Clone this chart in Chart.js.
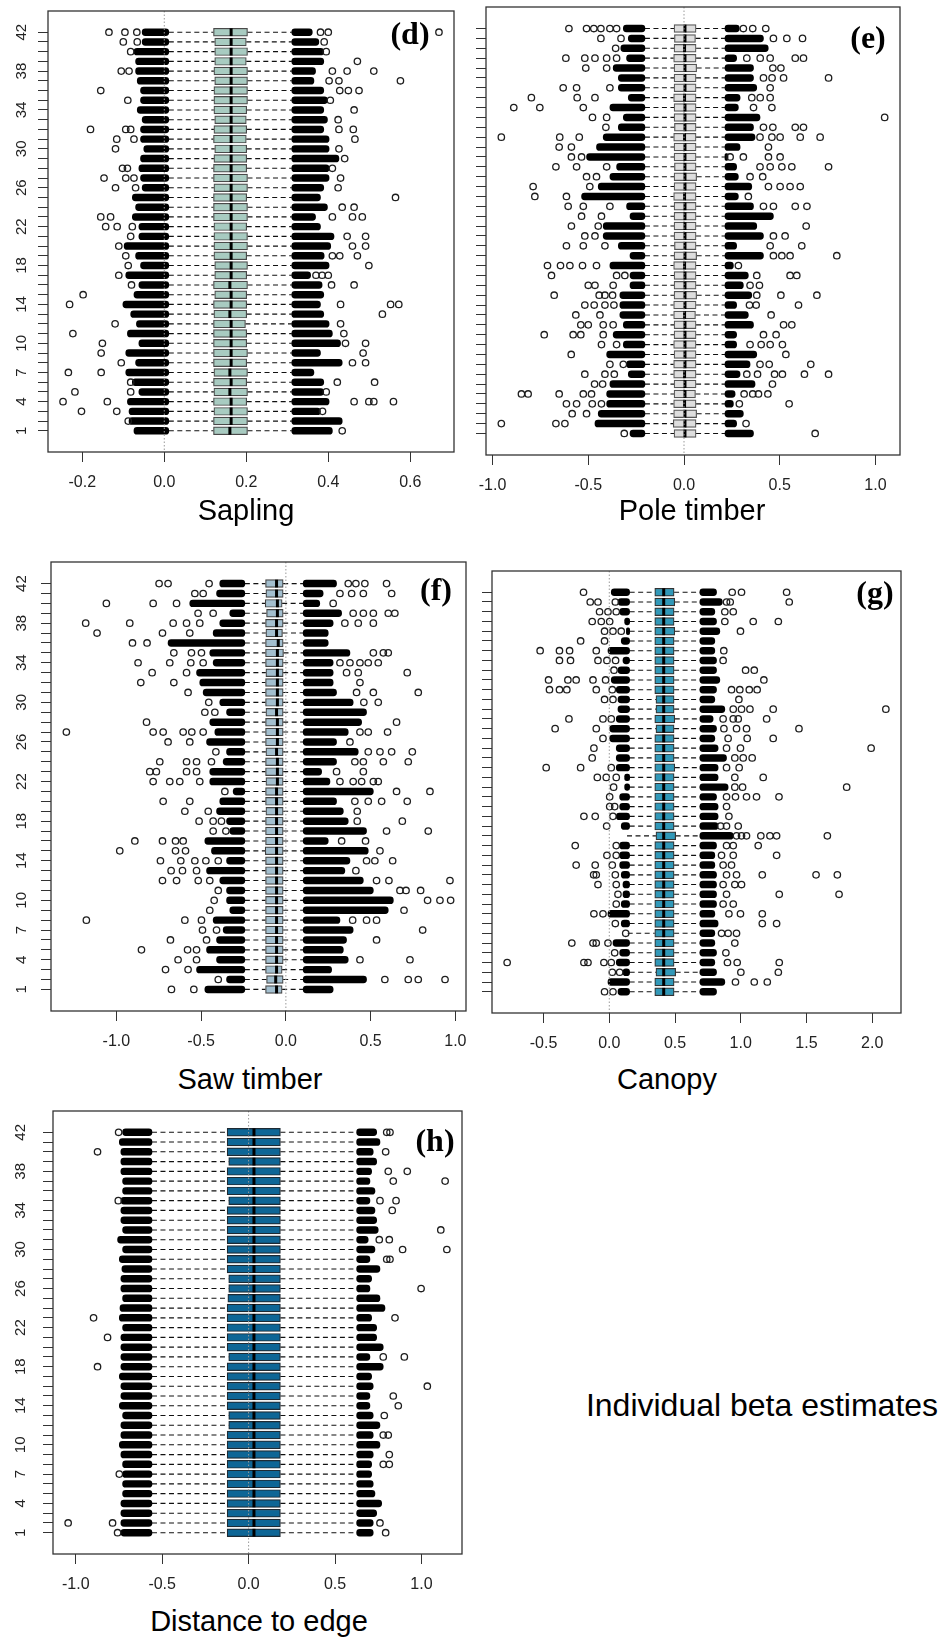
<!DOCTYPE html>
<html><head><meta charset="utf-8">
<script src="https://cdn.jsdelivr.net/npm/chart.js"></script>
<style>
html,body{margin:0;padding:0;background:#fff;}
body{width:940px;height:1642px;position:relative;overflow:hidden;font-family:"Liberation Sans",Arial,sans-serif;}
canvas{position:absolute;}
.t{position:absolute;transform:translate(-50%,-50%);white-space:nowrap;line-height:1;color:#000;}
.ax{font-size:29px;font-family:"Liberation Sans",Arial,sans-serif;}
.big{font-size:32px;font-family:"Liberation Sans",Arial,sans-serif;}
.lt{font-family:"Liberation Serif","Times New Roman",serif;font-weight:bold;font-size:32px;}
</style></head><body>
<script>
// ---------- categories (top to bottom) ----------
const rows = [42,41,40,39,38,37,36,35,34,33,32,31,30,29,28,27,26,25,24,23,22,21,20,19,18,17,16,15,14,13,12,11,10,9,8,7,6,5,4,3,2,1];
const yTickLabels = [42,38,34,30,26,22,18,14,10,7,4,1];

// ---------- (d) Sapling ----------
const dTicks = [-0.2,0.0,0.2,0.4,0.6];
const dQ1 = [0.120,0.123,0.123,0.123,0.121,0.123,0.121, 0.121,0.121,0.123,0.121,0.120,0.123,0.121, 0.120,0.120,0.121,0.120,0.120,0.120,0.121, 0.121,0.121,0.121,0.123,0.123,0.120,0.123, 0.120,0.121,0.120,0.120,0.120,0.120,0.120, 0.121,0.120,0.121,0.120,0.121,0.120,0.120];
const dMed = [0.163,0.163,0.163,0.163,0.163,0.163,0.163, 0.163,0.163,0.163,0.163,0.163,0.163,0.163, 0.163,0.163,0.163,0.163,0.163,0.163,0.163, 0.163,0.163,0.163,0.163,0.163,0.160,0.163, 0.163,0.160,0.163,0.163,0.163,0.163,0.163, 0.160,0.163,0.160,0.163,0.163,0.163,0.160];
const dQ3 = [0.203,0.200,0.203,0.200,0.203,0.203,0.203, 0.203,0.201,0.200,0.201,0.200,0.201,0.201, 0.201,0.203,0.203,0.201,0.203,0.203,0.201, 0.203,0.203,0.201,0.203,0.201,0.203,0.201, 0.201,0.201,0.198,0.201,0.201,0.203,0.201, 0.203,0.201,0.203,0.201,0.203,0.203,0.203];
const dWLo = [0.011,0.011,0.011,0.011,0.011,0.011,0.011, 0.011,0.011,0.011,0.011,0.011,0.011,0.011, 0.011,0.011,0.011,0.011,0.011,0.011,0.011, 0.011,0.011,0.011,0.011,0.011,0.011,0.011, 0.011,0.011,0.011,0.011,0.011,0.011,0.011, 0.011,0.011,0.011,0.011,0.011,0.011,0.011];
const dWHi = [0.311,0.311,0.311,0.311,0.311,0.311,0.311, 0.311,0.311,0.311,0.311,0.311,0.311,0.311, 0.311,0.311,0.311,0.311,0.311,0.311,0.311, 0.311,0.311,0.311,0.311,0.311,0.311,0.311, 0.311,0.311,0.311,0.311,0.311,0.311,0.311, 0.311,0.311,0.311,0.311,0.311,0.311,0.311];
const dBandL = [-0.054,-0.054,-0.074,-0.070,-0.070,-0.066,-0.058, -0.058,-0.066,-0.054,-0.058,-0.058,-0.050,-0.058, -0.062,-0.058,-0.054,-0.078,-0.070,-0.078,-0.062, -0.062,-0.098,-0.070,-0.058,-0.094,-0.062,-0.074, -0.101,-0.082,-0.068,-0.090,-0.062,-0.094,-0.070, -0.094,-0.078,-0.062,-0.090,-0.086,-0.086,-0.074];
const dBandR = [0.361,0.377,0.389,0.389,0.369,0.365,0.389, 0.398,0.389,0.398,0.389,0.402,0.402,0.426, 0.402,0.402,0.389,0.381,0.398,0.369,0.381, 0.414,0.406,0.390,0.402,0.357,0.385,0.389, 0.381,0.389,0.402,0.410,0.430,0.381,0.434, 0.365,0.389,0.389,0.402,0.381,0.434,0.410];
const dOut = [
 [-0.135,-0.096,-0.067,0.381,0.400,0.670],
 [-0.100,-0.066,0.390],
 [-0.082,0.395],
 [0.471],
 [-0.105,-0.086,0.410,0.446,0.511],
 [0.402,0.426,0.576],
 [-0.155,0.428,0.449,0.475],
 [-0.089,0.405],
 [0.463],
 [0.424],
 [-0.180,-0.094,-0.082,0.426,0.461],
 [-0.116,-0.074,0.465],
 [-0.119,0.426],
 [0.440],
 [-0.102,-0.090,0.410],
 [-0.147,-0.094,-0.074,0.430],
 [-0.119,-0.070,0.424],
 [0.564],
 [0.434,0.463],
 [-0.155,-0.131,0.410,0.459,0.483],
 [-0.143,-0.115,-0.078],
 [-0.082,0.446,0.491],
 [-0.111,0.459,0.491],
 [-0.094,0.410,0.428,0.471],
 [-0.088,0.499],
 [-0.111,0.370,0.385,0.400],
 [-0.080,0.408,0.463],
 [-0.198],
 [-0.231,0.430,0.552,0.572],
 [0.532],
 [-0.120,0.430],
 [-0.223,0.438],
 [-0.151,0.442,0.491],
 [-0.154,0.485],
 [-0.105,0.459,0.491],
 [-0.234,-0.154],
 [-0.082,0.422,0.513],
 [-0.218,-0.082,0.395],
 [-0.247,-0.139,0.463,0.499,0.511,0.559],
 [-0.202,-0.116,0.386],
 [-0.088],
 [0.434]
];

// ---------- (e) Pole timber ----------
const eTicks = [-1.0,-0.5,0.0,0.5,1.0];
const eQ1 = [-0.052,-0.050,-0.052,-0.054,-0.052,-0.052,-0.052, -0.054,-0.052,-0.052,-0.050,-0.054,-0.052,-0.052, -0.050,-0.052,-0.052,-0.054,-0.052,-0.052,-0.052, -0.052,-0.050,-0.052,-0.054,-0.052,-0.052,-0.052, -0.054,-0.054,-0.052,-0.052,-0.054,-0.052,-0.054, -0.054,-0.052,-0.052,-0.054,-0.054,-0.056,-0.052];
const eMed = [0.005,0.005,0.003,0.005,0.005,0.005,0.005, 0.003,0.005,0.005,0.005,0.003,0.005,0.005, 0.005,0.005,0.005,0.003,0.005,0.005,0.005, 0.005,0.005,0.005,0.003,0.005,0.005,0.005, 0.005,0.003,0.005,0.005,0.005,0.005,0.005, 0.003,0.005,0.005,0.003,0.005,0.005,0.005];
const eQ3 = [0.063,0.060,0.063,0.063,0.066,0.063,0.063, 0.063,0.063,0.063,0.063,0.063,0.063,0.063, 0.063,0.066,0.063,0.063,0.063,0.063,0.063, 0.063,0.063,0.066,0.063,0.063,0.063,0.066, 0.063,0.060,0.063,0.063,0.063,0.063,0.063, 0.063,0.063,0.060,0.063,0.066,0.063,0.063];
const eWLo = [-0.204,-0.204,-0.204,-0.204,-0.204,-0.204,-0.204, -0.204,-0.204,-0.204,-0.204,-0.204,-0.204,-0.204, -0.204,-0.204,-0.204,-0.204,-0.204,-0.204,-0.204, -0.204,-0.204,-0.204,-0.204,-0.204,-0.204,-0.204, -0.204,-0.204,-0.204,-0.204,-0.204,-0.204,-0.204, -0.204,-0.204,-0.204,-0.204,-0.204,-0.204,-0.204];
const eWHi = [0.214,0.214,0.214,0.214,0.214,0.214,0.214, 0.214,0.214,0.214,0.214,0.214,0.214,0.214, 0.214,0.214,0.214,0.214,0.214,0.214,0.214, 0.214,0.214,0.214,0.214,0.214,0.214,0.214, 0.214,0.214,0.214,0.214,0.214,0.214,0.214, 0.214,0.214,0.214,0.214,0.214,0.214,0.214];
const eBandL = [-0.317,-0.291,-0.330,-0.300,-0.370,-0.343,-0.343, -0.291,-0.387,-0.317,-0.343,-0.422,-0.457,-0.509, -0.352,-0.387,-0.448,-0.535,-0.300,-0.282,-0.422, -0.422,-0.343,-0.282,-0.387,-0.282,-0.282,-0.335, -0.335,-0.335,-0.317,-0.370,-0.317,-0.404,-0.300, -0.291,-0.387,-0.404,-0.404,-0.448,-0.465,-0.282];
const eBandR = [0.289,0.415,0.440,0.275,0.363,0.363,0.380, 0.293,0.284,0.397,0.363,0.371,0.293,0.230, 0.275,0.284,0.354,0.284,0.363,0.467,0.380, 0.415,0.275,0.415,0.258,0.336,0.310,0.354, 0.275,0.336,0.363,0.275,0.275,0.380,0.345, 0.293,0.371,0.267,0.258,0.310,0.275,0.363];
const eOut = [
 [-0.601,-0.509,-0.471,-0.434,-0.387,-0.352,0.310,0.359,0.427],
 [-0.434,-0.329,0.467,0.537,0.619],
 [-0.357],
 [-0.617,-0.518,-0.465,-0.404,-0.352,0.328,0.398,0.450,0.581,0.624],
 [-0.513,-0.404,0.464,0.506],
 [0.415,0.460,0.520,0.755],
 [-0.631,-0.561,-0.387,0.450],
 [-0.797,-0.558,-0.465,0.354,0.398,0.450],
 [-0.889,-0.753,-0.526,0.363,0.459],
 [-0.478,-0.404,1.048],
 [-0.408,0.415,0.464,0.581,0.624],
 [-0.954,-0.649,-0.547,0.397,0.459,0.502,0.607,0.711],
 [-0.652,-0.588,0.441],
 [-0.588,-0.535,0.241,0.310,0.441,0.502],
 [-0.669,-0.561,-0.404,0.397,0.450,0.511,0.563,0.755],
 [-0.509,-0.457,0.345,0.411],
 [-0.788,-0.492,0.441,0.502,0.554,0.607],
 [-0.779,-0.614,0.336],
 [-0.605,-0.526,-0.387,0.415,0.467,0.581,0.642],
 [-0.535,-0.431],
 [-0.588,-0.448,0.638],
 [-0.518,-0.465,0.467,0.528],
 [-0.614,-0.526,-0.413,0.450,0.615],
 [0.467,0.511,0.554,0.798],
 [-0.713,-0.645,-0.596,-0.530,-0.457,0.284],
 [-0.692,-0.352,-0.309,0.380,0.554,0.589],
 [-0.500,-0.465,-0.370,0.345,0.394],
 [-0.678,-0.443,-0.413,-0.373,0.380,0.506,0.694],
 [-0.518,-0.469,-0.413,-0.366,0.342,0.377,0.598],
 [-0.565,-0.439,0.455],
 [-0.539,-0.500,-0.422,-0.370,0.520,0.563],
 [-0.730,-0.579,-0.539,-0.422,0.415,0.481],
 [-0.431,-0.352,0.345,0.403,0.450,0.514],
 [-0.589,0.532],
 [-0.387,-0.317,0.397,0.445,0.662],
 [-0.518,-0.413,-0.364,0.328,0.384,0.473,0.514,0.629,0.755],
 [-0.467,-0.425,0.462],
 [-0.849,-0.814,-0.652,-0.526,-0.483,0.314,0.359,0.389,0.438],
 [-0.614,-0.561,-0.479,-0.431,0.289,0.549],
 [-0.584,-0.509],
 [-0.954,-0.669,-0.622,0.324],
 [-0.312,0.685]
];

// ---------- (f) Saw timber ----------
const fTicks = [-1.0,-0.5,0.0,0.5,1.0];
const fQ1 = [-0.120,-0.118,-0.122,-0.114,-0.120,-0.118,-0.120, -0.120,-0.120,-0.118,-0.120,-0.120,-0.120,-0.118, -0.120,-0.120,-0.120,-0.118,-0.120,-0.120,-0.118, -0.120,-0.120,-0.118,-0.120,-0.120,-0.120,-0.122, -0.120,-0.120,-0.120,-0.120,-0.120,-0.120,-0.120, -0.120,-0.120,-0.120,-0.120,-0.120,-0.114,-0.120];
const fMed = [-0.055,-0.055,-0.050,-0.050,-0.055,-0.055,-0.045, -0.050,-0.050,-0.050,-0.050,-0.050,-0.050,-0.055, -0.050,-0.050,-0.050,-0.055,-0.050,-0.050,-0.050, -0.055,-0.055,-0.055,-0.055,-0.055,-0.055,-0.055, -0.055,-0.055,-0.055,-0.055,-0.055,-0.055,-0.055, -0.055,-0.055,-0.055,-0.055,-0.055,-0.060,-0.055];
const fQ3 = [-0.016,-0.016,-0.022,-0.016,-0.016,-0.020,-0.016, -0.014,-0.016,-0.016,-0.016,-0.016,-0.016,-0.016, -0.016,-0.016,-0.016,-0.016,-0.016,-0.016,-0.016, -0.016,-0.016,-0.016,-0.016,-0.016,-0.016,-0.016, -0.016,-0.016,-0.016,-0.016,-0.016,-0.016,-0.016, -0.016,-0.016,-0.016,-0.016,-0.022,-0.016,-0.022];
const fWLo = [-0.242,-0.242,-0.242,-0.242,-0.242,-0.242,-0.242, -0.242,-0.242,-0.242,-0.242,-0.242,-0.242,-0.242, -0.242,-0.242,-0.242,-0.242,-0.242,-0.242,-0.242, -0.242,-0.242,-0.242,-0.242,-0.242,-0.242,-0.242, -0.242,-0.242,-0.242,-0.242,-0.242,-0.242,-0.242, -0.242,-0.242,-0.242,-0.242,-0.242,-0.242,-0.242];
const fWHi = [0.102,0.102,0.102,0.102,0.102,0.102,0.102, 0.102,0.102,0.102,0.102,0.102,0.102,0.102, 0.102,0.102,0.102,0.102,0.102,0.102,0.102, 0.102,0.102,0.102,0.102,0.102,0.102,0.102, 0.102,0.102,0.102,0.102,0.102,0.102,0.102, 0.102,0.102,0.102,0.102,0.102,0.102,0.102];
const fBandL = [-0.390,-0.409,-0.567,-0.331,-0.390,-0.429,-0.695, -0.449,-0.429,-0.527,-0.508,-0.488,-0.390,-0.350, -0.449,-0.419,-0.468,-0.350,-0.370,-0.449,-0.449, -0.311,-0.390,-0.409,-0.350,-0.331,-0.478,-0.439, -0.350,-0.468,-0.390,-0.350,-0.350,-0.331,-0.429, -0.370,-0.409,-0.468,-0.409,-0.527,-0.350,-0.478];
const fBandR = [0.299,0.220,0.200,0.329,0.279,0.250,0.250, 0.378,0.279,0.279,0.279,0.299,0.397,0.476, 0.447,0.368,0.299,0.427,0.299,0.211,0.260, 0.516,0.299,0.339,0.368,0.476,0.250,0.486, 0.378,0.348,0.457,0.516,0.634,0.604,0.319, 0.397,0.358,0.339,0.368,0.270,0.476,0.279];
const fOut = [
 [-0.748,-0.695,-0.453,0.368,0.413,0.466,0.594],
 [-0.537,-0.488,0.319,0.388,0.457,0.624],
 [-1.059,-0.783,-0.645,0.279],
 [-0.518,-0.429,0.397,0.457,0.516,0.604,0.643],
 [-1.181,-0.921,-0.665,-0.586,-0.508,0.348,0.427,0.516],
 [-1.114,-0.728,-0.567],
 [-0.905,-0.819],
 [-0.661,-0.557,-0.498,0.516,0.575,0.604],
 [-0.872,-0.685,-0.561,-0.488,0.319,0.378,0.437,0.486,0.545],
 [-0.789,-0.586,0.358,0.427,0.716],
 [-0.856,-0.661,0.437],
 [-0.577,0.417,0.516,0.781],
 [-0.455,0.460,0.545],
 [-0.478,-0.419],
 [-0.822,0.653],
 [-1.295,-0.783,-0.724,-0.606,-0.555,-0.488,0.437,0.486,0.600],
 [-0.695,-0.567,0.378],
 [-0.413,0.486,0.555,0.624,0.746],
 [-0.744,-0.586,-0.527,-0.439,0.407,0.457,0.575,0.722],
 [-0.803,-0.764,-0.586,-0.527,0.299,0.457],
 [-0.783,-0.685,-0.626,-0.508,0.319,0.397,0.447,0.516,0.545],
 [-0.360,0.653,0.850],
 [-0.724,-0.567,0.407,0.486,0.565,0.716],
 [-0.596,-0.458,0.421],
 [-0.512,-0.429,-0.380,0.421,0.687],
 [-0.429,-0.354,0.594,0.840],
 [-0.891,-0.728,-0.651,-0.606,0.329,0.470],
 [-0.980,-0.651,-0.592,0.555],
 [-0.740,-0.620,-0.537,-0.472,-0.399,0.476,0.525,0.630],
 [-0.677,-0.610,-0.527,0.413],
 [-0.728,-0.645,-0.517,-0.449,0.535,0.608,0.968],
 [-0.399,0.673,0.709,0.795],
 [-0.423,0.836,0.909,0.972],
 [-0.449,0.697],
 [-1.177,-0.596,-0.498,0.394,0.476,0.535],
 [-0.492,-0.409,0.807],
 [-0.681,-0.468,0.535],
 [-0.852,-0.580,-0.527],
 [-0.636,-0.527,0.437,0.732],
 [-0.710,-0.577],
 [-0.399,0.584,0.722,0.781,0.939],
 [-0.675,-0.543]
];

// ---------- (g) Canopy ----------
const gTicks = [-0.5,0.0,0.5,1.0,1.5,2.0];
const gQ1 = [0.346,0.346,0.346,0.346,0.346,0.346,0.346, 0.346,0.346,0.346,0.346,0.355,0.355,0.346, 0.355,0.346,0.346,0.346,0.346,0.346,0.346, 0.346,0.346,0.346,0.346,0.355,0.346,0.346, 0.346,0.346,0.346,0.346,0.346,0.346,0.346, 0.346,0.346,0.346,0.346,0.355,0.346,0.346];
const gMed = [0.414,0.414,0.414,0.414,0.414,0.414,0.414, 0.414,0.414,0.414,0.414,0.414,0.414,0.414, 0.414,0.414,0.414,0.414,0.414,0.414,0.414, 0.414,0.414,0.414,0.414,0.414,0.414,0.414, 0.414,0.414,0.414,0.414,0.414,0.414,0.414, 0.414,0.414,0.414,0.414,0.414,0.414,0.414];
const gQ3 = [0.493,0.498,0.493,0.493,0.498,0.493,0.493, 0.493,0.493,0.493,0.493,0.493,0.493,0.498, 0.493,0.493,0.493,0.493,0.498,0.493,0.493, 0.493,0.493,0.493,0.493,0.505,0.493,0.493, 0.493,0.493,0.493,0.493,0.493,0.493,0.493, 0.493,0.493,0.493,0.493,0.505,0.493,0.493];
const gWLo = [0.155,0.155,0.155,0.155,0.155,0.155,0.155, 0.155,0.155,0.155,0.155,0.155,0.155,0.155, 0.155,0.155,0.155,0.155,0.155,0.155,0.155, 0.155,0.155,0.155,0.155,0.135,0.155,0.155, 0.155,0.155,0.155,0.155,0.155,0.155,0.155, 0.140,0.155,0.155,0.155,0.155,0.155,0.155];
const gWHi = [0.689,0.689,0.689,0.689,0.689,0.689,0.689, 0.689,0.689,0.689,0.689,0.689,0.689,0.689, 0.689,0.689,0.689,0.689,0.689,0.689,0.689, 0.689,0.689,0.689,0.689,0.689,0.689,0.689, 0.689,0.689,0.689,0.689,0.689,0.689,0.689, 0.689,0.689,0.689,0.689,0.689,0.689,0.689];
const gBandL = [0.015,0.066,0.079,0.117,0.130,0.091,-0.010, 0.104,0.066,0.015,0.053,0.066,0.066,0.053, 0.003,0.003,0.053,0.053,0.053,0.117,0.117, 0.079,0.079,0.053,0.091,null,0.079,0.079, 0.079,0.091,0.104,0.104,0.091,-0.010,0.091, null,0.028,0.079,0.053,0.104,-0.010,0.066];
const gBandR = [0.816,0.860,0.803,0.816,0.841,0.803,0.803, 0.816,0.816,0.841,0.816,0.803,0.879,0.790, 0.816,0.803,0.828,0.892,0.828,0.828,0.904, 0.816,0.828,0.828,0.828,0.943,0.816,0.803, 0.803,0.816,0.816,0.816,0.816,0.803,0.828, 0.803,0.803,0.816,0.803,0.816,0.879,0.816];
const gOut = [
 [-0.196,0.935,1.006,1.349],
 [-0.145,-0.086,0.046,0.892,0.920,1.369],
 [-0.074,-0.010,0.053,0.879,0.943],
 [-0.130,-0.061,0.003,0.879,1.095,1.286],
 [-0.036,0.028,0.091,0.998],
 [-0.218,-0.036],
 [-0.526,-0.379,-0.302,-0.099,0.871],
 [-0.379,-0.295,-0.086,-0.018,0.048,0.866],
 [0.036,1.037,1.103],
 [-0.462,-0.315,-0.252,-0.124,-0.028,1.176],
 [-0.455,-0.379,-0.323,-0.099,0.023,0.930,0.993,1.065,1.125],
 [-0.036,0.028,0.986],
 [0.943,1.006,1.070,1.247,2.104],
 [-0.307,-0.048,0.015,0.866,0.943,0.981,1.197],
 [-0.412,-0.099,0.872,0.968,1.044,1.443],
 [-0.048,0.904,1.049,1.247],
 [-0.117,0.892,0.998,1.992],
 [-0.130,0.955,1.019,1.087],
 [-0.480,-0.218,0.015,0.892,0.988],
 [-0.091,-0.023,0.053,0.955,1.171],
 [0.033,0.955,1.014,1.806],
 [0.003,0.892,0.960,1.044,1.120,1.291],
 [0.003,0.041,0.892],
 [-0.193,-0.107,0.028,0.910],
 [-0.020,0.847,0.892,0.981],
 [0.968,1.006,1.044,1.153,1.222,1.273,1.659],
 [-0.259,0.053,0.892,0.943,1.133],
 [-0.018,0.053,0.854,0.943,1.273],
 [-0.252,-0.107,0.023,0.866,0.930],
 [-0.119,-0.099,0.046,0.892,0.968,1.164,1.573,1.735],
 [-0.086,0.053,0.866,0.955,1.006],
 [0.066,0.892,1.293,1.748],
 [0.053,0.866,0.943],
 [-0.117,-0.048,0.910,0.998,1.164],
 [0.046,1.164,1.273],
 [0.125,0.854,0.904,0.968],
 [-0.285,-0.124,-0.099,-0.010,0.955],
 [0.041,0.887],
 [-0.777,-0.193,-0.162,-0.041,0.015,0.899,0.973,1.293],
 [0.023,0.079,1.001,1.286],
 [0.960,1.103,1.202],
 [-0.036,0.028]
];

// ---------- (h) Distance to edge ----------
const hTicks = [-1.0,-0.5,0.0,0.5,1.0];
const hQ1 = [-0.124,-0.124,-0.124,-0.115,-0.124,-0.124,-0.124, -0.115,-0.124,-0.124,-0.124,-0.124,-0.124,-0.124, -0.124,-0.115,-0.115,-0.120,-0.124,-0.124,-0.124, -0.124,-0.124,-0.115,-0.124,-0.124,-0.124,-0.124, -0.124,-0.115,-0.115,-0.124,-0.124,-0.124,-0.124, -0.124,-0.124,-0.124,-0.124,-0.124,-0.124,-0.124];
const hMed = [0.031,0.031,0.031,0.031,0.031,0.031,0.031, 0.031,0.031,0.031,0.031,0.031,0.031,0.031, 0.031,0.031,0.031,0.031,0.031,0.031,0.031, 0.031,0.031,0.031,0.031,0.031,0.031,0.031, 0.031,0.031,0.031,0.031,0.031,0.031,0.031, 0.031,0.031,0.031,0.031,0.031,0.031,0.031];
const hQ3 = [0.184,0.184,0.184,0.184,0.184,0.184,0.184, 0.184,0.184,0.184,0.184,0.184,0.184,0.184, 0.184,0.184,0.184,0.184,0.184,0.184,0.184, 0.184,0.184,0.184,0.184,0.184,0.184,0.184, 0.184,0.184,0.184,0.184,0.184,0.184,0.184, 0.184,0.184,0.184,0.184,0.184,0.184,0.184];
const hWLo = [-0.559,-0.559,-0.559,-0.559,-0.559,-0.559,-0.559, -0.559,-0.559,-0.559,-0.559,-0.559,-0.559,-0.559, -0.559,-0.559,-0.559,-0.559,-0.559,-0.559,-0.559, -0.559,-0.559,-0.559,-0.559,-0.559,-0.559,-0.559, -0.559,-0.559,-0.559,-0.559,-0.559,-0.559,-0.559, -0.559,-0.559,-0.559,-0.559,-0.559,-0.559,-0.559];
const hWHi = [0.625,0.625,0.625,0.625,0.625,0.625,0.625, 0.625,0.625,0.625,0.625,0.625,0.625,0.625, 0.625,0.625,0.625,0.625,0.625,0.625,0.625, 0.625,0.625,0.625,0.625,0.625,0.625,0.625, 0.625,0.625,0.625,0.625,0.625,0.625,0.625, 0.625,0.625,0.625,0.625,0.625,0.625,0.625];
const hBandL = [-0.729,-0.748,-0.739,-0.739,-0.739,-0.729,-0.729, -0.739,-0.739,-0.739,-0.729,-0.758,-0.729,-0.748, -0.733,-0.739,-0.739,-0.729,-0.744,-0.748,-0.729, -0.739,-0.739,-0.739,-0.739,-0.748,-0.739,-0.739, -0.748,-0.729,-0.739,-0.739,-0.748,-0.739,-0.729, -0.729,-0.729,-0.729,-0.739,-0.739,-0.739,-0.739];
const hBandR = [0.741,0.760,0.721,0.741,0.712,0.702,0.731, 0.702,0.731,0.741,0.750,0.692,0.731,0.702, 0.760,0.712,0.702,0.760,0.789,0.712,0.741, 0.741,0.779,0.702,0.779,0.712,0.721,0.702, 0.702,0.721,0.760,0.721,0.760,0.721,0.712, 0.712,0.721,0.731,0.770,0.741,0.721,0.721];
const hOut = [
 [-0.752,0.799,0.818],
 [],
 [-0.874,0.793],
 [],
 [0.808,0.918],
 [0.837,1.137],
 [],
 [-0.754,0.760,0.853],
 [0.831],
 [],
 [1.112],
 [0.756,0.814],
 [0.891,1.147],
 [0.799,0.818],
 [],
 [],
 [0.998],
 [],
 [],
 [-0.897,0.847],
 [],
 [-0.816],
 [],
 [0.779,0.901],
 [-0.874],
 [],
 [1.034],
 [0.837],
 [0.866],
 [0.785],
 [],
 [0.779,0.808],
 [],
 [0.814],
 [0.779,0.814],
 [-0.748],
 [],
 [],
 [],
 [],
 [-1.044,-0.787,0.760],
 [-0.758,0.793]
];

// ---------- panels & layout ----------
const panels = [
 {q1:dQ1,med:dMed,q3:dQ3,wLo:dWLo,wHi:dWHi,bandL:dBandL,bandR:dBandR,out:dOut,ticks:dTicks,
  area:[48,9,454,452], fill:'#a8cbc1', line:'#4a4a4a', yLab:26},
 {q1:eQ1,med:eMed,q3:eQ3,wLo:eWLo,wHi:eWHi,bandL:eBandL,bandR:eBandR,out:eOut,ticks:eTicks,
  area:[486,5,900,455], fill:'#dedede', line:'#555555', yLab:null},
 {q1:fQ1,med:fMed,q3:fQ3,wLo:fWLo,wHi:fWHi,bandL:fBandL,bandR:fBandR,out:fOut,ticks:fTicks,
  area:[51,560,466,1011], fill:'#a3bfcf', line:'#444444', yLab:29},
 {q1:gQ1,med:gMed,q3:gQ3,wLo:gWLo,wHi:gWHi,bandL:gBandL,bandR:gBandR,out:gOut,ticks:gTicks,
  area:[492,569,901,1013], fill:'#3198b8', line:'#333333', yLab:null},
 {q1:hQ1,med:hMed,q3:hQ3,wLo:hWLo,wHi:hWHi,bandL:hBandL,bandR:hBandR,out:hOut,ticks:hTicks,
  area:[53,1109,462,1554], fill:'#0e6696', line:'#1e2a33', yLab:32}
];
const YW = 40, PT = 5, PR = 20, XH = 45;
const FONT = '"Liberation Sans", Arial, sans-serif';

const framePlugin = {
  id: 'frame',
  afterDatasetsDraw(chart, args, opts) {
    const {ctx, chartArea: a, scales} = chart;
    const x0 = scales.x.getPixelForValue(0);
    ctx.save();
    ctx.strokeStyle = '#9a9a9a'; ctx.lineWidth = 1; ctx.setLineDash([1.5, 2]);
    ctx.beginPath(); ctx.moveTo(x0, a.top); ctx.lineTo(x0, a.bottom); ctx.stroke();
    ctx.restore();
  },
  afterDraw(chart, args, opts) {
    const {ctx, chartArea: a, scales} = chart;
    ctx.save();
    ctx.strokeStyle = '#333'; ctx.lineWidth = 1.3;
    ctx.strokeRect(a.left, a.top, a.right - a.left, a.bottom - a.top);
    if (opts.yLab != null) {
      ctx.fillStyle = '#222'; ctx.font = '15px ' + FONT;
      ctx.textAlign = 'center'; ctx.textBaseline = 'middle';
      yTickLabels.forEach(v => {
        const y = scales.y.getPixelForValue(v);
        ctx.save(); ctx.translate(a.left - opts.yLab, y); ctx.rotate(-Math.PI / 2);
        ctx.fillText(String(v), 0, 0); ctx.restore();
      });
    }
    ctx.restore();
  }
};

function xRange(p) {
  const all = [].concat(p.bandL, p.bandR, p.wLo, p.wHi, p.out.flat()).filter(v => v != null);
  const lo = Math.min(...all), hi = Math.max(...all), pad = (hi - lo) * 0.04;
  return [lo - pad, hi + pad];
}

panels.forEach(p => {
  const [L, T, R, B] = p.area;
  const cv = document.createElement('canvas');
  const w = (R - L) + YW + PR, h = (B - T) + PT + XH;
  cv.width = w; cv.height = h;
  cv.style.left = (L - YW) + 'px'; cv.style.top = (T - PT) + 'px';
  cv.style.width = w + 'px'; cv.style.height = h + 'px';
  document.body.appendChild(cv);

  const whisk = [], boxes = [], meds = [], bands = [], outs = [];
  rows.forEach((r, i) => {
    whisk.push({x: p.wLo[i], y: r}, {x: p.q1[i], y: r}, {x: null, y: r},
               {x: p.q3[i], y: r}, {x: p.wHi[i], y: r}, {x: null, y: r});
    boxes.push({x: [p.q1[i], p.q3[i]], y: r});
    meds.push({x: p.med[i], y: r});
    if (p.bandL[i] != null) bands.push({x: [p.bandL[i], p.wLo[i]], y: r});
    if (p.bandR[i] != null) bands.push({x: [p.wHi[i], p.bandR[i]], y: r});
    p.out[i].forEach(v => outs.push({x: v, y: r}));
  });
  const [xmin, xmax] = xRange(p);
  const gridOpts = {display: true, drawOnChartArea: false, drawTicks: true, tickLength: 10,
                    tickColor: '#333', tickWidth: 1, offset: false};

  new Chart(cv, {
    type: 'bar',
    data: {datasets: [
      {type: 'line', data: whisk, borderColor: '#111', borderWidth: 1.1, borderDash: [5, 3.5],
       pointRadius: 0, spanGaps: false, order: 5},
      {type: 'bar', data: boxes, backgroundColor: p.fill, borderColor: p.line, borderWidth: 1.2,
       borderSkipped: false, barThickness: 7.8, grouped: false, order: 4},
      {type: 'line', data: meds, showLine: false, pointStyle: 'line', pointRotation: 90,
       pointRadius: 3.9, pointBorderWidth: 3, pointBorderColor: '#000', order: 3},
      {type: 'bar', data: bands, backgroundColor: '#000', borderWidth: 0, borderRadius: 3.4,
       borderSkipped: false, barThickness: 6.8, grouped: false, order: 2},
      {type: 'line', data: outs, showLine: false, pointStyle: 'circle', pointRadius: 3.2,
       pointBorderWidth: 1.3, pointBorderColor: '#1e1e1e', pointBackgroundColor: 'rgba(0,0,0,0)', order: 1}
    ]},
    options: {
      responsive: false, animation: false, events: [], indexAxis: 'y',
      layout: {padding: {left: 0, top: PT, right: PR, bottom: 0}},
      plugins: {legend: {display: false}, tooltip: {enabled: false}, frame: {yLab: p.yLab}},
      scales: {
        x: {type: 'linear', min: xmin, max: xmax, offset: false, beginAtZero: false,
            afterBuildTicks: s => { s.ticks = p.ticks.map(v => ({value: v})); },
            afterFit: s => { s.height = XH; },
            grid: gridOpts, border: {display: false},
            ticks: {padding: 11, color: '#222', font: {family: FONT, size: 16}, autoSkip: false,
                    maxRotation: 0, callback: v => Number(v).toFixed(1)}},
        y: {type: 'linear', min: -1.18, max: 44.18, offset: false,
            afterBuildTicks: s => { s.ticks = rows.map(v => ({value: v})); },
            afterFit: s => { s.width = YW; },
            grid: gridOpts, border: {display: false},
            ticks: {display: false}}
      }
    },
    plugins: [framePlugin]
  });
});

// ---------- texts ----------
const texts = [
  ['ax', 'Sapling', 246, 510], ['ax', 'Pole timber', 692, 510],
  ['ax', 'Saw timber', 250, 1079], ['ax', 'Canopy', 667, 1079],
  ['ax', 'Distance to edge', 259, 1621], ['big', 'Individual beta estimates', 762, 1405],
  ['lt', '(d)', 410, 33], ['lt', '(e)', 868, 37], ['lt', '(f)', 436, 589],
  ['lt', '(g)', 875, 592], ['lt', '(h)', 435, 1140]
];
texts.forEach(([cls, s, x, y]) => {
  const d = document.createElement('div');
  d.className = 't ' + cls; d.textContent = s;
  d.style.left = x + 'px'; d.style.top = y + 'px';
  document.body.appendChild(d);
});
</script>
</body></html>
